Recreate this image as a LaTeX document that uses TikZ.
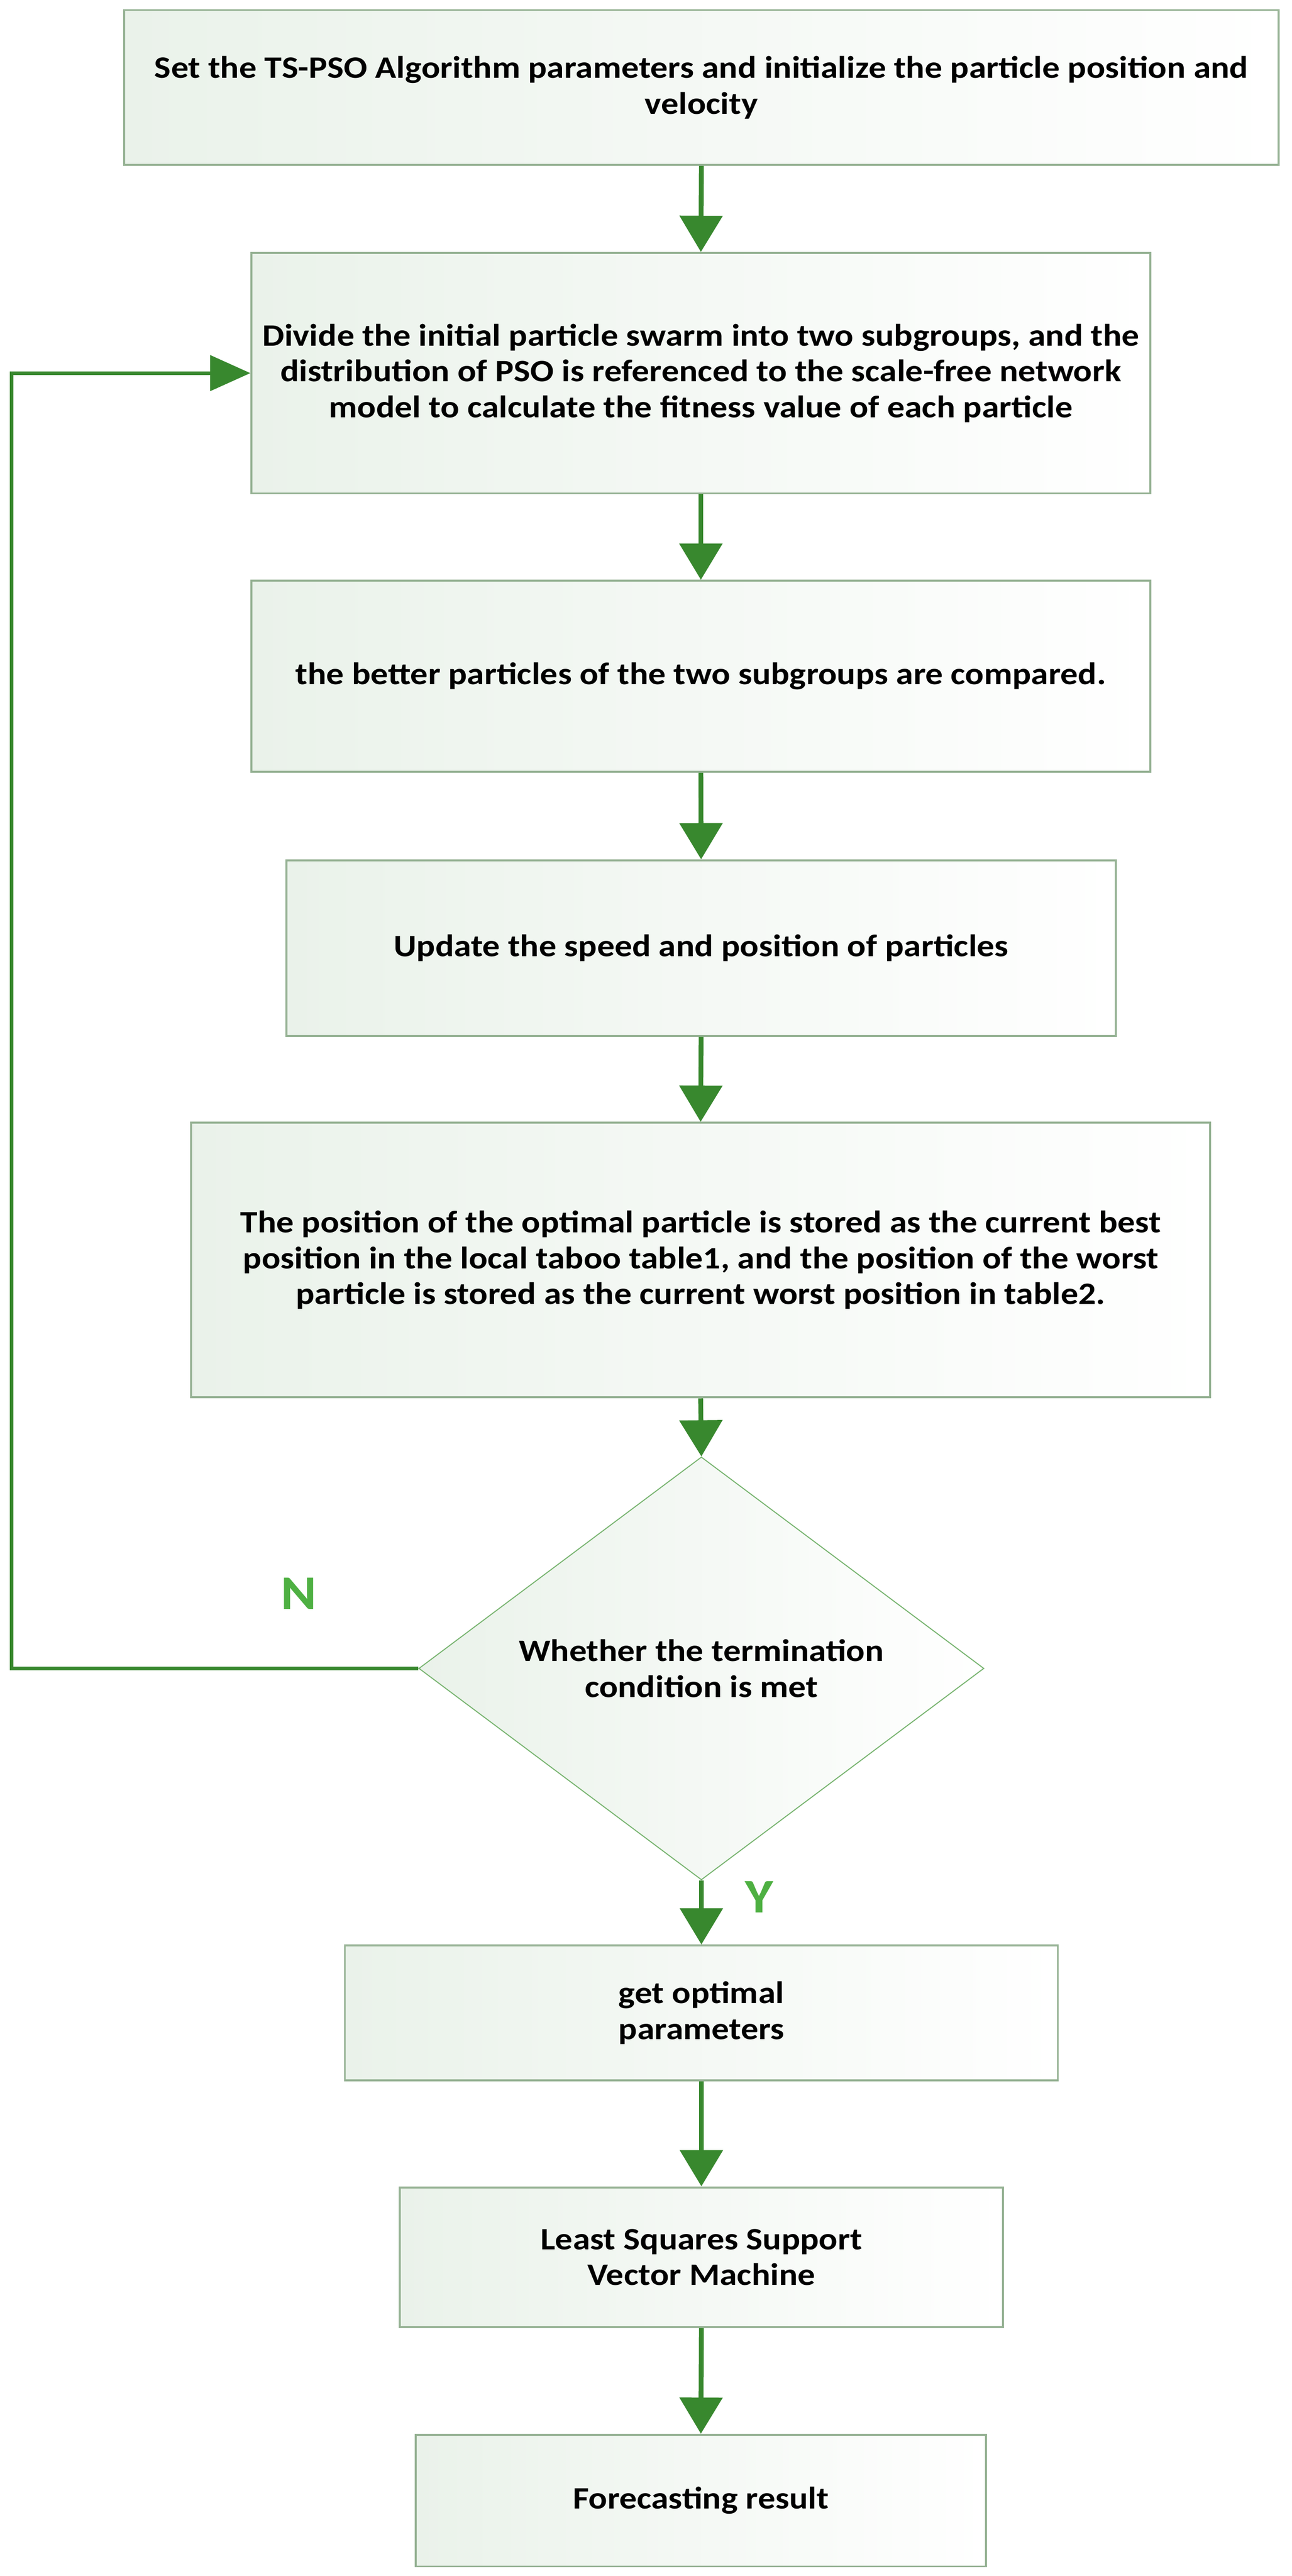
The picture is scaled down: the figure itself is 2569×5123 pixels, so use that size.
\documentclass[tikz,border=0pt]{standalone}
\usepackage{fontspec}
\setmainfont[FakeStretch=1.12]{Carlito}
\usetikzlibrary{arrows.meta,shapes.geometric}
\definecolor{boxborder}{RGB}{150,178,148}
\definecolor{boxfill}{RGB}{234,242,234}
\definecolor{arrowgreen}{RGB}{56,136,46}
\definecolor{diaborder}{RGB}{120,180,112}
\definecolor{labelgreen}{RGB}{78,176,66}
\tikzset{
  box/.style={draw=boxborder, line width=1pt, left color=boxfill, right color=white,
    inner sep=0pt, align=center, font=\fontsize{15.5pt}{17.8pt}\selectfont\bfseries},
  decision/.style={diamond, draw=diaborder, line width=0.5pt, left color=boxfill, right color=white,
    inner sep=0pt, align=center, font=\fontsize{15.5pt}{17.8pt}\selectfont\bfseries},
  flow/.style={draw=arrowgreen, line width=2.4pt, -{Triangle[length=18pt,width=21pt]}},
  loopflow/.style={draw=arrowgreen, line width=1.8pt, -{Triangle[length=20pt,width=17.5pt]}},
  yn/.style={text=labelgreen, inner sep=0pt, font=\fontsize{24pt}{28pt}\selectfont\bfseries}
}
\begin{document}
\begin{tikzpicture}[x=0.25pt,y=-0.25pt]
\useasboundingbox (0,0) rectangle (2569,5123);
\node[box, minimum width=574pt, minimum height=77pt] (b1) at (1395,174)
  {Set the TS-PSO Algorithm parameters and initialize the particle position and\\velocity};
\node[box, minimum width=447pt, minimum height=119.5pt] (b2) at (1394,742)
  {Divide the initial particle swarm into two subgroups, and the\\distribution of PSO is referenced to the scale-free network\\model to calculate the fitness value of each particle};
\node[box, minimum width=447pt, minimum height=95pt] (b3) at (1394,1345)
  {the better particles of the two subgroups are compared.};
\node[box, minimum width=412.25pt, minimum height=87.25pt] (b4) at (1394.5,1885.5)
  {Update the speed and position of particles};
\node[box, minimum width=506.75pt, minimum height=136.5pt] (b5) at (1393.5,2506)
  {The position of the optimal particle is stored as the current best\\position in the local taboo table1, and the position of the worst\\particle is stored as the current worst position in table2.};
\node[decision, minimum width=281pt, minimum height=174pt] (dia) at (1395,3318)
  {Whether the termination\\condition is met};
\node[box, minimum width=354.5pt, minimum height=67pt] (b6) at (1395,4003)
  {get optimal\\parameters};
\node[box, minimum width=300pt, minimum height=69.5pt] (b7) at (1395,4489)
  {Least Squares Support\\Vector Machine};
\node[box, minimum width=283.5pt, minimum height=65.5pt] (b8) at (1394,4973)
  {Forecasting result};
\coordinate (lc) at (23,3318);
\draw[flow] (b1.south) -- (b2.north);
\draw[flow] (b2.south) -- (b3.north);
\draw[flow] (b3.south) -- (b4.north);
\draw[flow] (b4.south) -- (b5.north);
\draw[flow] (b5.south) -- (dia.north);
\draw[flow] (dia.south) -- (b6.north);
\draw[flow] (b6.south) -- (b7.north);
\draw[flow] (b7.south) -- (b8.north);
\draw[loopflow] (dia.west) -- (lc) |- (b2.west);
\node[yn] (N) at (594,3169) {N};
\node[yn] (Y) at (1510,3773) {Y};
\end{tikzpicture}
\end{document}
